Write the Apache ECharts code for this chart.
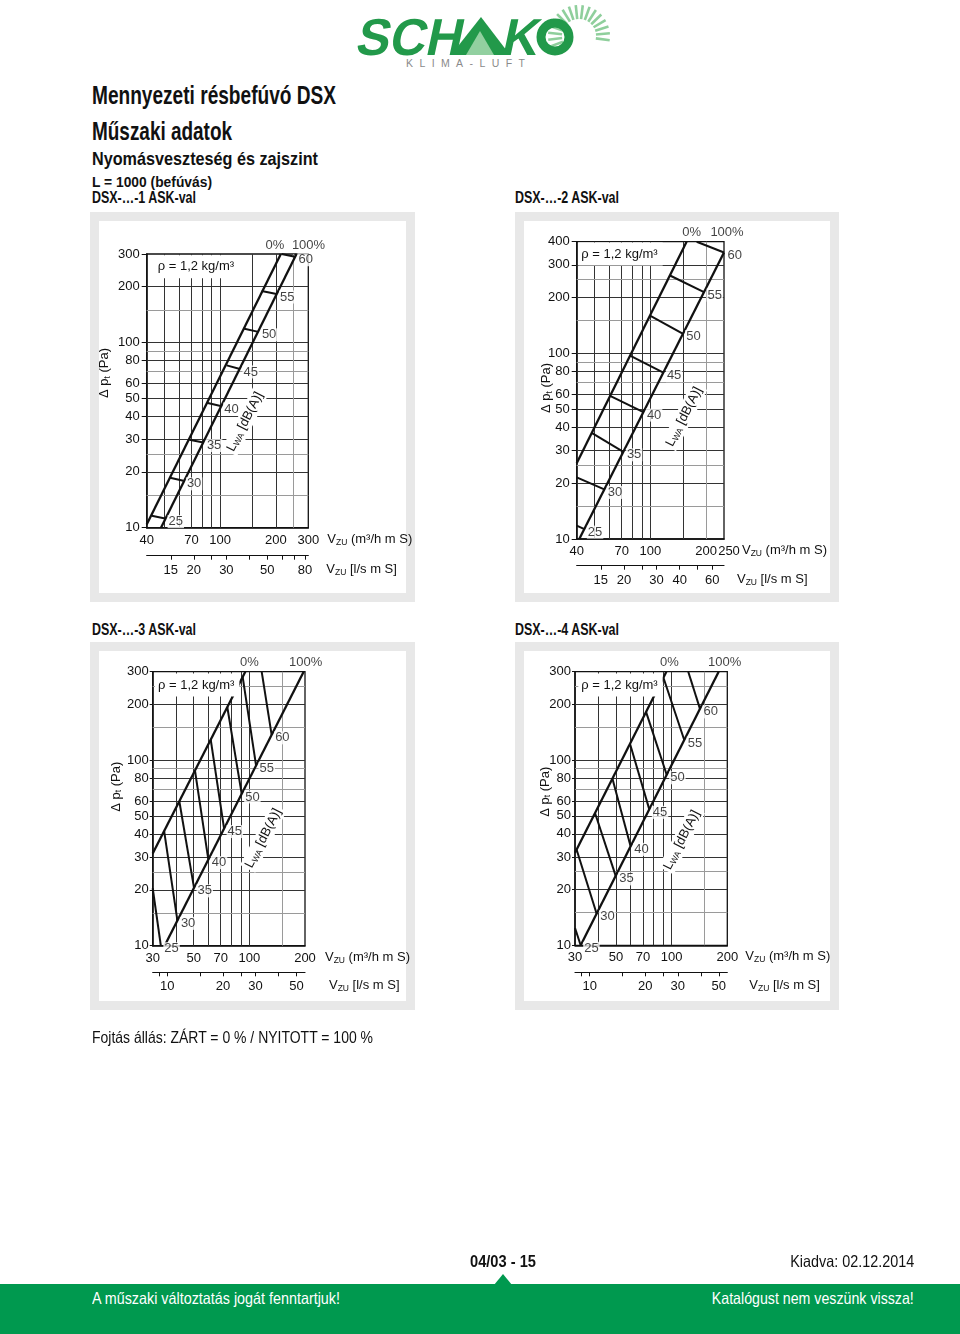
<!DOCTYPE html>
<html><head><meta charset="utf-8">
<script src="https://cdn.jsdelivr.net/npm/echarts@6/dist/echarts.min.js"></script>
<style>
html,body{margin:0;padding:0;background:#fff;}
#page{position:relative;width:960px;height:1334px;overflow:hidden;background:#fff;
  font-family:"Liberation Sans",Arial,sans-serif;color:#111;}
.t{position:absolute;white-space:nowrap;line-height:1;transform-origin:0 0;}
.r{transform-origin:100% 0;}
.b{font-weight:bold;}
.frame{position:absolute;box-sizing:border-box;border:9px solid #e8e8e8;background:#fff;}
#chart{position:absolute;left:0;top:0;width:960px;height:1334px;}
#band{position:absolute;left:0;top:1284px;width:960px;height:50px;background:#00994f;}
#notch{position:absolute;left:494px;top:1274px;width:18px;height:11px;background:#00994f;clip-path:polygon(50% 0,100% 100%,0 100%);}
</style></head>
<body><div id="page">
<svg style="position:absolute;left:340px;top:0" width="290" height="76">
  <g transform="skewX(-12)" font-family="Liberation Sans" font-weight="bold" font-size="52" fill="#22994a">
    <text x="26" y="55" textLength="106" lengthAdjust="spacingAndGlyphs">SCH</text>
    <text x="172" y="55" textLength="36" lengthAdjust="spacingAndGlyphs">K</text>
  </g>
  <polygon points="141,17 111,55 170,55" fill="#22994a"/>
  <polygon points="140,31 126,55 154,55" fill="#92d0a0"/>
  <g id="rays" stroke="#8fcf9c" stroke-width="2.6"></g>
  <circle cx="215" cy="37" r="14" fill="none" stroke="#22994a" stroke-width="9"/>
  <text x="66" y="67" font-family="Liberation Sans" font-size="10.5" fill="#8a8a8a" letter-spacing="6.4">KLIMA-LUFT</text>
</svg>

<div class="t b" data-w="244" style="left:92px;top:83px;font-size:25px">Mennyezeti résbefúvó DSX</div>
<div class="t b" data-w="140" style="left:92px;top:119px;font-size:25px">Műszaki adatok</div>
<div class="t b" data-w="226" style="left:92px;top:149px;font-size:19px">Nyomásveszteség és zajszint</div>
<div class="t b" data-w="120" style="left:92px;top:174px;font-size:15.5px">L = 1000 (befúvás)</div>
<div class="t b" data-w="104" style="left:92px;top:190px;font-size:16px">DSX-…-1 ASK-val</div>
<div class="t b" data-w="104" style="left:515px;top:190px;font-size:16px">DSX-…-2 ASK-val</div>
<div class="t b" data-w="104" style="left:92px;top:622px;font-size:16px">DSX-…-3 ASK-val</div>
<div class="t b" data-w="104" style="left:515px;top:622px;font-size:16px">DSX-…-4 ASK-val</div>

<div class="frame" style="left:90px;top:212px;width:325px;height:390px"></div>
<div class="frame" style="left:515px;top:212px;width:324px;height:390px"></div>
<div class="frame" style="left:90px;top:642px;width:325px;height:368px"></div>
<div class="frame" style="left:515px;top:642px;width:324px;height:368px"></div>

<div id="chart"></div>

<div class="t" data-w="281" style="left:92px;top:1029px;font-size:16.5px">Fojtás állás: ZÁRT = 0 % / NYITOTT = 100 %</div>
<div class="t b" data-w="66" style="left:470px;top:1253px;font-size:16.5px">04/03 - 15</div>
<div class="t r" data-w="124" style="right:46px;top:1253px;font-size:16.5px">Kiadva: 02.12.2014</div>
<div id="notch"></div>
<div id="band"></div>
<div class="t" data-w="248" style="left:92px;top:1290px;font-size:16.5px;color:#fff">A műszaki változtatás jogát fenntartjuk!</div>
<div class="t r" data-w="202" style="right:46px;top:1290px;font-size:16.5px;color:#fff">Katalógust nem veszünk vissza!</div>
</div>
<script>
// condensed look for page texts: fit each to its measured width in the reference
document.querySelectorAll('[data-w]').forEach(el => {
  const w = el.getBoundingClientRect().width;
  el.style.transform = 'scaleX(' + (parseFloat(el.dataset.w) / w) + ')';
});
// logo rays (decoration)
(function(){
  const g = document.getElementById('rays');
  const cx = 239, cy = 36;
  for (let a = -110; a <= 110; a += 13) {
    const r = a * Math.PI / 180;
    const l = document.createElementNS('http://www.w3.org/2000/svg','line');
    l.setAttribute('x1', cx + 17*Math.sin(r)); l.setAttribute('y1', cy - 17*Math.cos(r));
    l.setAttribute('x2', cx + 31*Math.sin(r)); l.setAttribute('y2', cy - 31*Math.cos(r));
    g.appendChild(l);
  }
})();

const FONT = '"Liberation Sans",Arial,sans-serif';
const FS = 13;
const M3H_PER_LS = 3.6;
const LEVELS = [25, 30, 35, 40, 45, 50, 55, 60];   // L_WA dB(A)

// ---------- DSX-...-1 ASK-val ----------
const p1XRange = [40, 300];
const p1YRange = [10, 300];
const p1XLabels = [40, 70, 100, 200, 300];
const p1YLabels = [10, 20, 30, 40, 50, 60, 80, 100, 200, 300];
const p1LsLabels = [15, 20, 30, 50, 80];
const p1LsTicks = [15, 20, 25, 30, 40, 50, 60, 70, 80];
const p1XGridMajor = [50, 60, 70, 80, 90, 100, 150, 200];
const p1XGridMinor = [250];
const p1YGridMajor = [20, 30, 40, 50, 60, 80, 100, 200];
const p1YGridMinor = [15, 25, 70, 90, 150];
const p1Closed = [[40, 10.4], [213, 300]];
const p1Open = [[47.8, 10], [259, 300]];
const p1TickFrom = [[42.6, 11.6], [53.5, 18.6], [68.1, 29.8], [84.5, 47.3], [108.5, 75.2], [133.5, 119], [167.8, 189.5], [215, 300]];
const p1TickTo = [[50.3, 11.2], [63.2, 17.9], [81.1, 28.8], [100.6, 45.4], [128, 71.9], [161, 114], [202, 182.5], [254, 290]];

// ---------- DSX-...-2 ASK-val ----------
const p2XRange = [40, 250];
const p2YRange = [10, 400];
const p2XLabels = [40, 70, 100, 200, 250];
const p2YLabels = [10, 20, 30, 40, 50, 60, 80, 100, 200, 300, 400];
const p2LsLabels = [15, 20, 30, 40, 60];
const p2LsTicks = [15, 20, 25, 30, 40, 50, 60];
const p2XGridMajor = [50, 60, 70, 80, 90, 100, 150];
const p2XGridMinor = [200];
const p2YGridMajor = [20, 30, 40, 50, 60, 80, 100, 200, 300];
const p2YGridMinor = [15, 25, 70, 90, 150, 250];
const p2Closed = [[40, 25.6], [157, 400]];
const p2Open = [[41.3, 10], [250, 350]];
const p2TickFrom = [[40, 11.8], [40, 21.5], [48.2, 37.3], [60.6, 59], [77.7, 97.2], [99.6, 160], [127.7, 263], [178, 400]];
const p2TickTo = [[44, 11.3], [56.4, 18.5], [71.5, 29.5], [91.7, 48.3], [117.6, 78.7], [149.5, 128], [195, 214], [250, 350]];

// ---------- DSX-...-3 ASK-val ----------
const p3XRange = [30, 200];
const p3YRange = [10, 300];
const p3XLabels = [30, 50, 70, 100, 200];
const p3YLabels = [10, 20, 30, 40, 50, 60, 80, 100, 200, 300];
const p3LsLabels = [10, 20, 30, 50];
const p3LsTicks = [9, 10, 15, 20, 25, 30, 40, 50];
const p3XGridMajor = [40, 50, 60, 70, 80, 90, 100];
const p3XGridMinor = [150];
const p3YGridMajor = [20, 30, 40, 50, 60, 80, 100, 200];
const p3YGridMinor = [15, 25, 70, 90, 150, 250];
const p3Closed = [[30, 31.4], [95.1, 300]];
const p3Open = [[34.8, 10], [196.7, 300]];
const p3TickFrom = [[30, 20.4], [34.6, 41.5], [41.8, 60.1], [50.8, 87.9], [61.8, 129], [76, 193], [92, 281], [116.6, 300]];
const p3TickTo = [[33.2, 10], [40.8, 13.7], [50.2, 20.5], [60, 29.1], [73, 42.8], [90.9, 65.8], [108.7, 93.7], [132, 137]];

// ---------- DSX-...-4 ASK-val ----------
const p4XRange = [30, 200];
const p4YRange = [10, 300];
const p4XLabels = [30, 50, 70, 100, 200];
const p4YLabels = [10, 20, 30, 40, 50, 60, 80, 100, 200, 300];
const p4LsLabels = [10, 20, 30, 50];
const p4LsTicks = [9, 10, 15, 20, 25, 30, 40, 50];
const p4XGridMajor = [40, 50, 60, 70, 80, 90, 100];
const p4XGridMinor = [150];
const p4YGridMajor = [20, 30, 40, 50, 60, 80, 100, 200];
const p4YGridMinor = [15, 25, 70, 90, 150, 250];
const p4Closed = [[30, 31.6], [93.6, 300]];
const p4Open = [[32.2, 10], [179.6, 300]];
const p4TickFrom = [[30, 12.4], [30.6, 32.9], [38.5, 51.8], [47.8, 79.5], [59.5, 122.4], [72.7, 182], [90.2, 279], [123, 300]];
const p4TickTo = [[32.2, 10], [39.3, 14.8], [49.8, 23.7], [60, 34.2], [75.7, 54.2], [94, 83.3], [117, 128.4], [142.3, 189]];

const panels = [
  {xRange:p1XRange, yRange:p1YRange, xLabels:p1XLabels, yLabels:p1YLabels, lsLabels:p1LsLabels, lsTicks:p1LsTicks,
   xMaj:p1XGridMajor, xMin:p1XGridMinor, yMaj:p1YGridMajor, yMin:p1YGridMinor, closed:p1Closed, open:p1Open, from:p1TickFrom, to:p1TickTo},
  {xRange:p2XRange, yRange:p2YRange, xLabels:p2XLabels, yLabels:p2YLabels, lsLabels:p2LsLabels, lsTicks:p2LsTicks,
   xMaj:p2XGridMajor, xMin:p2XGridMinor, yMaj:p2YGridMajor, yMin:p2YGridMinor, closed:p2Closed, open:p2Open, from:p2TickFrom, to:p2TickTo},
  {xRange:p3XRange, yRange:p3YRange, xLabels:p3XLabels, yLabels:p3YLabels, lsLabels:p3LsLabels, lsTicks:p3LsTicks,
   xMaj:p3XGridMajor, xMin:p3XGridMinor, yMaj:p3YGridMajor, yMin:p3YGridMinor, closed:p3Closed, open:p3Open, from:p3TickFrom, to:p3TickTo},
  {xRange:p4XRange, yRange:p4YRange, xLabels:p4XLabels, yLabels:p4YLabels, lsLabels:p4LsLabels, lsTicks:p4LsTicks,
   xMaj:p4XGridMajor, xMin:p4XGridMinor, yMaj:p4YGridMajor, yMin:p4YGridMinor, closed:p4Closed, open:p4Open, from:p4TickFrom, to:p4TickTo}
];

// layout (pixels)
const layouts = [
  {left:146.7, top:254, width:161.6, height:273.7, secTop:555.7, xNameGap:19, secNameGap:18, lastPad:0, yLabelMargin:7, yTickLen:5, rho:[8,12.7], lwa:[245,421.7], yName:[104.5,373], pct0:-6, pct100:12},
  {left:576.7, top:241.7, width:147.3, height:297.3, secTop:565.7, xNameGap:18, secNameGap:13, lastPad:10, yLabelMargin:7, yTickLen:5, rho:[1.6,12.3], lwa:[684,416.7], yName:[546.7,388], pct0:5, pct100:3},
  {left:152.7, top:671.7, width:152.3, height:274, secTop:972.3, xNameGap:20, secNameGap:24, lastPad:0, yLabelMargin:4, yTickLen:3, rho:[2.3,13.3], lwa:[263.3,838.3], yName:[116,786.7], pct0:4, pct100:2},
  {left:575, top:671.7, width:152.3, height:273.6, secTop:972.3, xNameGap:18, secNameGap:22, lastPad:0, yLabelMargin:4, yTickLen:3, rho:[3.3,13.3], lwa:[681.7,840], yName:[545,791.7], pct0:3, pct100:6}
];

const AX = '#111';
const richE = {
  a:{fontSize:FS, fontFamily:FONT, color:AX, lineHeight:15},
  s:{fontSize:8.5, fontFamily:FONT, color:AX, lineHeight:10, verticalAlign:'bottom'}
};
const richZ = {
  a:{fontSize:FS, fontFamily:FONT, fill:AX, lineHeight:15},
  s:{fontSize:8.5, fontFamily:FONT, fill:AX, lineHeight:10, verticalAlign:'bottom'}
};
const fmt = v => String(Math.round(v));
const labelBase = {color:AX, fontFamily:FONT, fontSize:FS, showMinLabel:true, showMaxLabel:true, hideOverlap:false};
// keep tick values at the very ends of a log axis inside its (floating point) extent
const inside = (vals, lo, hi) => vals.map(v => Math.min(Math.max(v, lo * (1 + 1e-9)), hi * (1 - 1e-9)));

const option = {animation:false, textStyle:{fontFamily:FONT}, grid:[], xAxis:[], yAxis:[], series:[], graphic:[]};

panels.forEach((p, i) => {
  const L = layouts[i];
  option.grid.push({left:L.left, top:L.top, width:L.width, height:L.height, show:true, borderColor:AX, borderWidth:1.3, backgroundColor:'transparent'});
  option.xAxis.push({
    type:'log', logBase:10, gridIndex:i, min:p.xRange[0], max:p.xRange[1], position:'bottom',
    axisLine:{show:true, onZero:false, lineStyle:{color:AX, width:1.5}},
    axisTick:{show:false}, splitLine:{show:false}, minorTick:{show:false}, minorSplitLine:{show:false},
    axisLabel:Object.assign({customValues:inside(p.xLabels.slice(0, -1), p.xRange[0], p.xRange[1]), formatter:fmt, margin:6}, labelBase),
    name:'{a|V}{s|ZU}{a| (m³/h m S)}', nameLocation:'end', nameGap:L.xNameGap,
    nameTextStyle:{align:'left', verticalAlign:'top', padding:[4,0,0,0], rich:richE}
  });
  option.yAxis.push({
    type:'log', logBase:10, gridIndex:i, min:p.yRange[0], max:p.yRange[1],
    axisLine:{show:true, onZero:false, lineStyle:{color:AX, width:1.5}},
    axisTick:{show:true, customValues:inside(p.yLabels, p.yRange[0], p.yRange[1]), length:L.yTickLen, lineStyle:{color:AX, width:1}},
    splitLine:{show:false}, minorTick:{show:false}, minorSplitLine:{show:false},
    axisLabel:Object.assign({customValues:inside(p.yLabels, p.yRange[0], p.yRange[1]), formatter:fmt, margin:L.yLabelMargin}, labelBase)
  });
});
panels.forEach((p, i) => {
  const L = layouts[i];
  const gi = 4 + i;
  const lo = p.xRange[0] / M3H_PER_LS, hi = p.xRange[1] / M3H_PER_LS;
  option.grid.push({left:L.left, top:L.secTop - 1, width:L.width, height:1});
  option.xAxis.push({
    type:'log', logBase:10, gridIndex:gi, min:lo, max:hi, position:'bottom',
    axisLine:{show:true, onZero:false, lineStyle:{color:AX, width:1.2}},
    axisTick:{show:true, customValues:inside(p.lsTicks, lo, hi), length:4, lineStyle:{color:AX, width:1}},
    splitLine:{show:false}, minorTick:{show:false},
    axisLabel:Object.assign({customValues:inside(p.lsLabels, lo, hi), formatter:fmt, margin:8}, labelBase),
    name:'{a|V}{s|ZU}{a| [l/s m S]}', nameLocation:'end', nameGap:L.secNameGap,
    nameTextStyle:{align:'left', verticalAlign:'top', padding:[6,0,0,0], rich:richE}
  });
  option.yAxis.push({type:'value', gridIndex:gi, min:0, max:1, show:false});
});
// twin x axes carrying the last m³/h label, so the tightly spaced end labels (e.g. 200 / 250) both stay visible
panels.forEach((p, i) => {
  const L = layouts[i];
  option.xAxis.push({
    type:'log', logBase:10, gridIndex:i, min:p.xRange[0], max:p.xRange[1], position:'bottom',
    axisLine:{show:false}, axisTick:{show:false}, splitLine:{show:false}, minorTick:{show:false},
    axisLabel:Object.assign({}, labelBase, {customValues:inside(p.xLabels.slice(-1), p.xRange[0], p.xRange[1]), margin:6,
      formatter:v => '{r|' + fmt(v) + '}',
      rich:{r:{fontSize:FS, fontFamily:FONT, color:AX, padding:[0, 0, 0, L.lastPad]}}})
  });
});

const vLines = (xs, yr) => xs.map(x => ({coords:[[x, yr[0]], [x, yr[1]]]}));
const hLines = (ys, xr) => ys.map(y => ({coords:[[xr[0], y], [xr[1], y]]}));

panels.forEach((p, i) => {
  const L = layouts[i];
  const base = {type:'lines', coordinateSystem:'cartesian2d', xAxisIndex:i, yAxisIndex:i, silent:true, polyline:false};
  option.series.push(Object.assign({}, base, {z:1, lineStyle:{color:'#333', width:1, opacity:1},
    data:[...vLines(p.xMaj, p.yRange), ...hLines(p.yMaj, p.xRange)]}));
  option.series.push(Object.assign({}, base, {z:1, lineStyle:{color:'#9a9a9a', width:1, opacity:1},
    data:[...vLines(p.xMin, p.yRange), ...hLines(p.yMin, p.xRange)]}));
  option.series.push(Object.assign({}, base, {z:3, lineStyle:{color:AX, width:2.3, opacity:1},
    data:[{coords:p.closed}, {coords:p.open}]}));
  option.series.push(Object.assign({}, base, {z:3, lineStyle:{color:AX, width:2, opacity:1},
    data:p.from.map((f, k) => ({coords:[f, p.to[k]]}))}));
  option.series.push({type:'scatter', xAxisIndex:i, yAxisIndex:i, z:5, silent:true, symbolSize:1, clip:false,
    itemStyle:{color:'rgba(0,0,0,0)'},
    label:{show:true, position:'right', distance:2, offset:[0,3], formatter:d => d.value[2],
      backgroundColor:'#fff', padding:[0,1], color:AX, fontFamily:FONT, fontSize:FS},
    data:p.to.map((t, k) => [t[0], t[1], LEVELS[k]])});
  option.series.push({type:'scatter', xAxisIndex:i, yAxisIndex:i, z:5, silent:true, symbolSize:1, clip:false,
    itemStyle:{color:'rgba(0,0,0,0)'},
    label:{show:true, position:'top', distance:2, formatter:d => d.value[2], color:AX, fontFamily:FONT, fontSize:FS},
    data:[
      {value:[p.closed[p.closed.length - 1][0], p.yRange[1], '0%'], label:{offset:[L.pct0, 0]}},
      {value:[p.open[p.open.length - 1][0], p.yRange[1], '100%'], label:{offset:[L.pct100, 0]}}
    ]});

  option.graphic.push({type:'text', x:L.left + L.rho[0], y:L.top + L.rho[1], z:50, silent:true,
    style:{text:'ρ = 1,2 kg/m³', fontSize:FS, fontFamily:FONT, fill:AX, align:'left', verticalAlign:'middle',
      backgroundColor:'#fff', padding:[5,5,5,3]}});
  option.graphic.push({type:'text', x:L.lwa[0], y:L.lwa[1], rotation:63 * Math.PI / 180, z:50, silent:true,
    style:{text:'{a|L}{s|WA}{a| [dB(A)]}', rich:richZ, align:'center', verticalAlign:'middle',
      backgroundColor:'#fff', padding:[1,2]}});
  option.graphic.push({type:'text', x:L.yName[0], y:L.yName[1], rotation:Math.PI / 2, z:50, silent:true,
    style:{text:'{a|Δ p}{s|t}{a| (Pa)}', rich:richZ, align:'center', verticalAlign:'middle'}});
});

const chart = echarts.init(document.getElementById('chart'), null, {renderer:'canvas', width:960, height:1334});
chart.setOption(option);
</script>
</body></html>
